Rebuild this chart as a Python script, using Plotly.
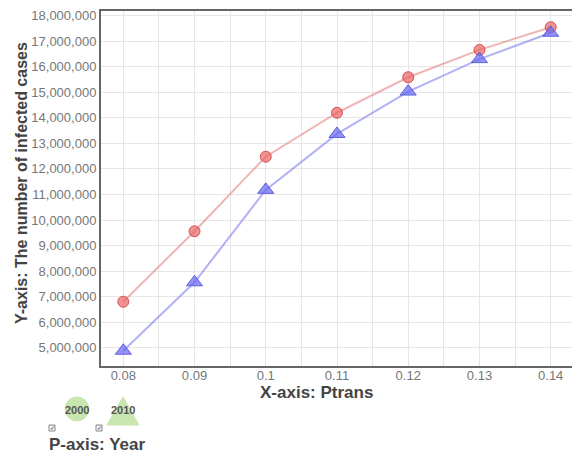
import plotly.graph_objects as go

ptrans = [0.08, 0.09, 0.10, 0.11, 0.12, 0.13, 0.14]
cases_2000 = [6800000, 9560000, 12480000, 14200000, 15590000, 16660000, 17550000]
cases_2010 = [4880000, 7560000, 11180000, 13370000, 15030000, 16300000, 17330000]
years = ["2000", "2010"]

W, H = 572, 456
L, R, T, B = 101, 0, 11, 90

fig = go.Figure()
fig.add_trace(go.Scatter(
    x=ptrans, y=cases_2000, mode="lines+markers", name=years[0],
    line=dict(color="rgba(228,130,130,0.6)", width=2),
    marker=dict(symbol="circle", size=11, color="rgba(235,100,100,0.7)",
                line=dict(color="rgba(210,70,70,0.9)", width=1)),
))
fig.add_trace(go.Scatter(
    x=ptrans, y=cases_2010, mode="lines+markers", name=years[1],
    line=dict(color="rgba(125,125,238,0.6)", width=2),
    marker=dict(symbol="triangle-up", size=14, color="rgba(105,105,240,0.72)",
                line=dict(color="rgba(85,85,225,0.9)", width=1)),
))

pw = W - L - R
ph = H - T - B
def px(xs):
    return (xs - L) / pw
def py(ys):
    return (H - B - ys) / ph

shapes = []
annotations = []
shapes.append(dict(type="circle", xref="paper", yref="paper",
                   x0=px(65), x1=px(89), y0=py(421), y1=py(397),
                   fillcolor="#c8e6b0", line=dict(color="#c8e6b0", width=1)))
tri = "M {} {} L {} {} L {} {} Z".format(px(107), py(425), px(139), py(425), px(123), py(397))
shapes.append(dict(type="path", xref="paper", yref="paper", path=tri,
                   fillcolor="#c8e6b0", line=dict(color="#c8e6b0", width=1)))
for cx in (52, 99):
    shapes.append(dict(type="rect", xref="paper", yref="paper",
                       x0=px(cx - 3), x1=px(cx + 3), y0=py(431), y1=py(425),
                       fillcolor="#f4f4f4", line=dict(color="#888888", width=1)))
    annotations.append(dict(xref="paper", yref="paper", x=px(cx), y=py(428),
                            text="✓", showarrow=False, font=dict(size=6, color="#333333"),
                            xanchor="center", yanchor="middle"))
for cx, lab in zip((77, 123), years):
    annotations.append(dict(xref="paper", yref="paper", x=px(cx), y=py(410),
                            text="<b>" + lab + "</b>", showarrow=False,
                            font=dict(size=11, color="#555555", family="Liberation Sans, Arial"),
                            xanchor="center", yanchor="middle"))
annotations.append(dict(xref="paper", yref="paper", x=px(47), y=py(444),
                        text="<b>P-axis: Year</b>", showarrow=False,
                        font=dict(size=17, color="#444444", family="Liberation Sans, Arial"),
                        xanchor="left", yanchor="middle"))
annotations.append(dict(xref="paper", yref="paper", x=px(316), y=py(393),
                        text="<b>X-axis: Ptrans</b>", showarrow=False,
                        font=dict(size=17, color="#444444", family="Liberation Sans, Arial"),
                        xanchor="center", yanchor="middle"))
annotations.append(dict(xref="paper", yref="paper", x=px(21), y=py(183),
                        text="<b>Y-axis: The number of infected cases</b>", showarrow=False,
                        textangle=-90,
                        font=dict(size=16, color="#444444", family="Liberation Sans, Arial"),
                        xanchor="center", yanchor="middle"))

fig.update_layout(
    width=W, height=H,
    margin=dict(l=L, r=R, t=T, b=B, autoexpand=False),
    paper_bgcolor="white", plot_bgcolor="white",
    showlegend=False,
    font=dict(family="Liberation Sans, Arial", color="#777777"),
    shapes=shapes, annotations=annotations,
    xaxis=dict(
        range=[0.07687, 0.14299], dtick=0.01, tick0=0.08,
        showgrid=True, gridcolor="#e6e6e6", gridwidth=1,
        minor=dict(dtick=0.005, tick0=0.08, showgrid=True, gridcolor="#e6e6e6"),
        showline=True, linecolor="#666666", linewidth=2, mirror=True,
        ticks="", tickfont=dict(size=13, color="#777777"),
        ticklabelstandoff=-4,
        zeroline=False, automargin=False,
    ),
    yaxis=dict(
        range=[4283000, 18184000], dtick=1000000, tick0=0,
        tickformat=",d",
        showgrid=True, gridcolor="#e6e6e6", gridwidth=1,
        showline=True, linecolor="#666666", linewidth=2,
        ticks="", tickfont=dict(size=13, color="#777777"),
        zeroline=False, automargin=False,
    ),
)

fig.write_html(
    "out.html",
    config={"displayModeBar": False},
    post_script="document.body.style.margin='0px';document.body.style.overflow='hidden';",
)
